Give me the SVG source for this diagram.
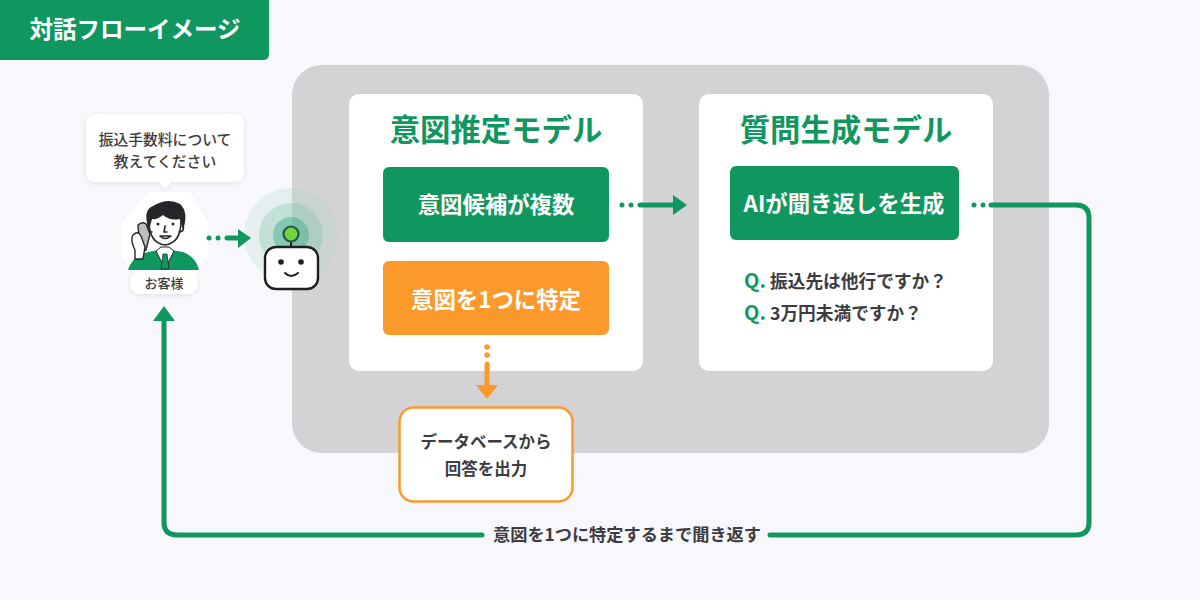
<svg xmlns="http://www.w3.org/2000/svg" width="1200" height="600" viewBox="0 0 1200 600">
<defs>
<style>
text{font-family:"Noto Sans CJK JP","Noto Sans",sans-serif;text-anchor:middle}
.ink{fill:#3c3c41;font-weight:700}
.g{fill:#10975f}
.o{fill:#fb9a2b}
.wh{fill:#fff;font-weight:700}
.gl{fill:none;stroke:#10975f;stroke-width:5;stroke-linecap:round;stroke-linejoin:round}
.ol{fill:none;stroke:#fb9a2b;stroke-width:5;stroke-linecap:round}
.dark{fill:none;stroke:#26262a;stroke-width:1.6;stroke-linecap:round;stroke-linejoin:round}
</style>
<filter id="soft" x="-20%" y="-20%" width="140%" height="140%"><feDropShadow dx="0" dy="1" stdDeviation="2" flood-color="#000" flood-opacity=".1"/></filter>
</defs>
<rect width="1200" height="600" fill="#f8f7fb"/>
<g id="panel"><rect x="292" y="65" width="757" height="388" rx="30" fill="#d3d3d6"/></g>
<g id="title"><path d="M0 0H269V54Q269 60 263 60H0Z" class="g"/><text x="135" y="38" font-size="23.500" font-weight="700" fill="#fff">対話フローイメージ</text></g>

<g id="bubble">
<path d="M97 114H233Q244 114 244 125V172Q244 182 233 182H171L165 190L159 182H97Q86 182 86 172V125Q86 114 97 114Z" fill="#fff" filter="url(#soft)"/>
<text x="165" y="145" font-size="14.800" font-weight="500" fill="#3c3c41">振込手数料について</text>
<text x="165" y="167" font-size="14.800" font-weight="500" fill="#3c3c41">教えてください</text>
</g>

<g id="customer">
<path d="M148 192H190L208 222V258L192 280H140L122 258V222Z" fill="#fff"/>
<path d="M128 270Q132 256 148 252L165 249L183 252Q196 257 199 270Z" class="g"/>
<path d="M156 251L165 269L174 251L169 247H161Z" fill="#fff" stroke="#26262a" stroke-width="1"/>
<path d="M163 254H167L169 269H161Z" class="g" stroke="#26262a" stroke-width=".8"/>
<path d="M149 221Q149 243 165 245Q181 243 181 221V212H149Z" fill="#fff" stroke="#26262a" stroke-width="1.600"/>
<path d="M149 230Q142 210 153 206Q168 197 180 204Q189 212 183 230L180 219Q170 221 163 215Q157 220 152 219Z" fill="#26262a"/>
<path d="M148 225Q146 232 152 232M183 225Q185 232 179 232" class="dark"/>
<circle cx="158" cy="224" r="1.500" fill="#26262a"/><circle cx="173" cy="224" r="1.500" fill="#26262a"/>
<path d="M165 226L164 232H167M160 236Q165 241 171 236Z" class="dark"/>
<path d="M138 225Q142 221 146 224L150 234L146 250Q141 254 137 250L139 238Z" fill="#bdbdbd" stroke="#26262a" stroke-width="1.400"/>
<path d="M135 259V250Q130 240 133 235Q138 230 141 236L145 247L143 259Z" fill="#fff" stroke="#26262a" stroke-width="1.400"/>
<rect x="130" y="271" width="68" height="23" rx="11" fill="#fff" filter="url(#soft)"/>
<text x="164" y="288" font-size="13" font-weight="500" fill="#3c3c41">お客様</text>
</g>

<g id="robot">
<circle cx="291" cy="235" r="47" fill="#a9d8c6" opacity=".22"/>
<circle cx="291" cy="235" r="32" fill="#7cc5aa" opacity=".35"/>
<circle cx="291" cy="235" r="18" fill="#3fa987" opacity=".45"/>
<rect x="265" y="247" width="53" height="42" rx="11" fill="#fff" stroke="#1f1f22" stroke-width="2.400"/>
<path d="M291 240V247" stroke="#1f1f22" stroke-width="2"/>
<circle cx="291" cy="234" r="7.500" fill="#74d13f" stroke="#1d5a4a" stroke-width="2.200"/>
<circle cx="281" cy="262" r="2.800" fill="#1f1f22"/><circle cx="301" cy="262" r="2.800" fill="#1f1f22"/>
<path d="M285 273Q291 279 298 273" fill="none" stroke="#1f1f22" stroke-width="2" stroke-linecap="round"/>
</g>

<g id="intent-card"><rect x="349" y="94" width="294" height="277" rx="10" fill="#fff"/>
<text x="496" y="141" font-size="30.400" font-weight="700" fill="#10975f">意図推定モデル</text></g>
<g id="intent-multi"><rect x="383" y="167" width="226" height="75" rx="6" class="g"/>
<text x="496" y="213" font-size="22.400" class="wh">意図候補が複数</text></g>
<g id="intent-one"><rect x="383" y="261" width="226" height="74" rx="6" class="o"/>
<text x="496" y="308" font-size="22.400" class="wh">意図を1つに特定</text></g>

<g id="question-card"><rect x="699" y="94" width="294" height="277" rx="10" fill="#fff"/>
<text x="846" y="141" font-size="30.400" font-weight="700" fill="#10975f">質問生成モデル</text></g>
<g id="question-gen"><rect x="730" y="166" width="229" height="74" rx="6" class="g"/>
<text x="844" y="212" font-size="22.400" class="wh">AIが聞き返しを生成</text></g>
<g id="questions">
<text x="744" y="288" font-size="20" font-weight="700" fill="#10975f" style="text-anchor:start">Q.</text>
<text x="770" y="288" font-size="17.700" class="ink" style="text-anchor:start">振込先は他行ですか？</text>
<text x="744" y="320" font-size="20" font-weight="700" fill="#10975f" style="text-anchor:start">Q.</text>
<text x="770" y="320" font-size="17.700" class="ink" style="text-anchor:start">3万円未満ですか？</text>
</g>

<g id="db"><rect x="399.500" y="407.500" width="173" height="94" rx="14" fill="#fff" stroke="#fb9a2b" stroke-width="2.500"/>
<text x="486" y="448" font-size="16.500" class="ink">データベースから</text>
<text x="486" y="475" font-size="16.500" class="ink">回答を出力</text></g>

<g id="connectors">
<g class="g"><circle cx="209" cy="238" r="2.500"/><circle cx="218" cy="238" r="2.500"/></g>
<path d="M227 238H240" class="gl"/><path d="M238 229L251 238L238 248Z" class="g"/>
<g class="g"><circle cx="622" cy="205" r="2.500"/><circle cx="631" cy="205" r="2.500"/></g>
<path d="M640 205H675" class="gl"/><path d="M673 195L687 205L673 215Z" class="g"/>
<g class="o"><circle cx="487" cy="347" r="2.800"/><circle cx="487" cy="355" r="2.800"/></g>
<path d="M487 364V388" class="ol"/><path d="M476 385H498L487 399Z" class="o"/>
<g class="g"><circle cx="974" cy="205" r="2.500"/><circle cx="983" cy="205" r="2.500"/></g>
<path d="M991 205H1076Q1089 205 1089 218V522Q1089 535 1076 535H770" class="gl"/>
<path d="M482 535H177Q164 535 164 522V318" class="gl"/>
<path d="M153 321L164 306L175 321Z" class="g"/>
<text x="627" y="541" font-size="17.200" class="ink">意図を1つに特定するまで聞き返す</text>
</g>
</svg>
